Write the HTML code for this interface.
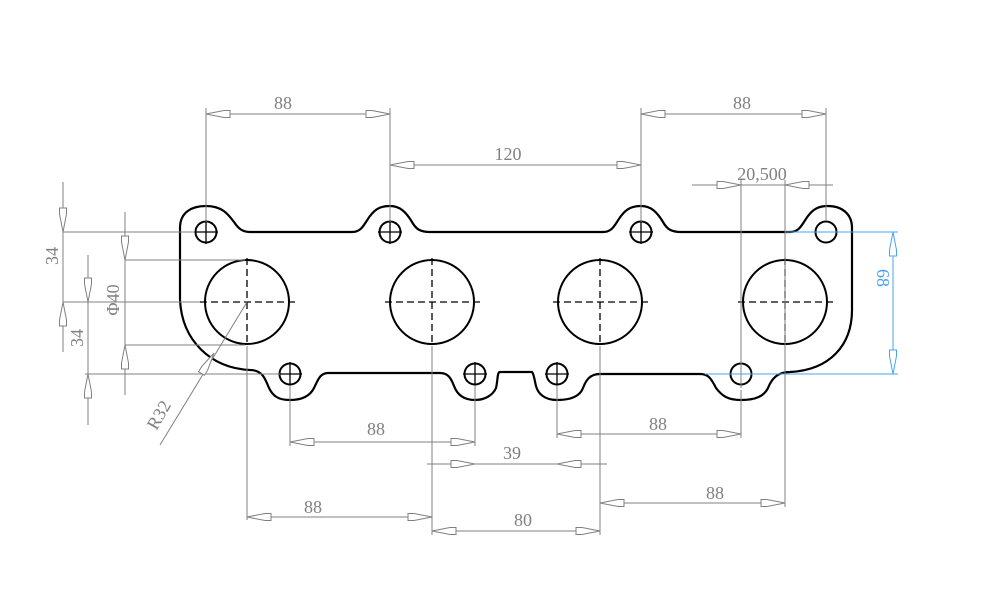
<!DOCTYPE html>
<html><head><style>body{margin:0;background:#fff}svg{display:block}</style></head><body>
<svg width="991" height="592" viewBox="0 0 991 592" xmlns="http://www.w3.org/2000/svg" font-family="Liberation Serif, serif" font-size="18">
<defs>
<polygon id="ar" points="0,0 -18,-3.5 -24,-3.5 -24,3.5 -18,3.5" fill="#fff" stroke="#808080" stroke-width="1"/>
<polygon id="arb" points="0,0 -18,-3.5 -24,-3.5 -24,3.5 -18,3.5" fill="#fff" stroke="#4aa3f0" stroke-width="1"/>
</defs>
<path fill="none" stroke="#000" stroke-width="2.2" d="
M180,300 L180,228 C180,212 192,206 206,206 C222,206 228,214 234,222 C238,228 242,232 250,232
L352,232 C362,232 364,224 370,216 C376,208 382,206 390,206 C400,206 406,212 412,222 C416,229 420,232 430,232
L603,232 C613,232 615,224 621,216 C627,208 633,206 641,206 C651,206 657,212 663,222 C667,229 671,232 681,232
L790,232 C800,232 802,224 808,216 C814,208 820,206 828,206 C842,206 852,214 852,228
L852,310 C852,345 830,370 790,372 C778,372 772,378 768,388 C764,396 756,400 741,400 C728,400 722,396 716,388 C711,378 708,374 700,374
L600,374 C590,374 586,380 583,388 C580,396 572,400 557,400 C545,400 538,394 536,386 C534,378 534,374 532,372
L500,372 C497,372 498,380 496,388 C493,395 485,400 475,400 C463,400 457,394 454,386 C451,378 448,373 440,373
L328,373 C320,373 318,380 314,388 C310,396 302,400 290,400 C278,400 273,396 269,388 C265,378 262,370 250,370
C210,368 182,340 180,300 Z"/>
<g fill="none" stroke="#000" stroke-width="2">
<circle cx="247" cy="302" r="42"/><circle cx="432" cy="302" r="42"/><circle cx="600" cy="302" r="42"/><circle cx="785" cy="302" r="42"/>
<circle cx="206" cy="232" r="10.5"/><circle cx="390" cy="232" r="10.5"/><circle cx="641" cy="232" r="10.5"/><circle cx="826" cy="232" r="10.5"/>
<circle cx="290" cy="374" r="10.5"/><circle cx="475" cy="374" r="10.5"/><circle cx="557" cy="374" r="10.5"/><circle cx="741" cy="374" r="10.5"/>
</g>
<g stroke="#000" stroke-width="1.3" stroke-dasharray="7,4" fill="none">
<path d="M200,302H295M247,258V346M385,302H480M432,258V346M553,302H648M600,258V346M738,302H833M785,258V346"/>
</g>
<g stroke="#000" stroke-width="1.3">
<path d="M194,232h24M206,220v24M378,232h24M390,220v24M629,232h24M641,220v24M278,374h24M290,362v24M463,374h24M475,362v24M545,374h24M557,362v24"/>
</g>
<g stroke="#808080" stroke-width="1" fill="none">
<path d="M206,108V222M390,108V222M641,108V222M826,108V220M206,114H390M390,165H641M641,114H826"/>
<path d="M692,185H833M741,180V388M785,180V505"/>
<path d="M63,182V352M63,232H195M63,302H200M88,255V425M85,374H280M125,212V395M125,260H245M125,345H245"/>
<path d="M247,302L160,445"/>
<path d="M290,385V446M475,385V446M557,385V438M741,390V438M290,442H475M557,434H741M427,464H607M247,346V520M432,346V535M600,346V535M785,346V507M247,517H432M432,531H600M600,503H785"/>
</g>
<g stroke="#4aa3f0" stroke-width="1" fill="none"><path d="M785,232H898M705,374H898M893,232V374"/></g>
<use href="#arb" transform="translate(893,232) rotate(-90)"/><use href="#arb" transform="translate(893,374) rotate(90)"/>
<use href="#ar" transform="translate(206,114) rotate(180)"/><use href="#ar" transform="translate(390,114)"/>
<use href="#ar" transform="translate(390,165) rotate(180)"/><use href="#ar" transform="translate(641,165)"/>
<use href="#ar" transform="translate(641,114) rotate(180)"/><use href="#ar" transform="translate(826,114)"/>
<use href="#ar" transform="translate(741,185)"/><use href="#ar" transform="translate(785,185) rotate(180)"/>
<use href="#ar" transform="translate(63,232) rotate(90)"/><use href="#ar" transform="translate(63,302) rotate(-90)"/>
<use href="#ar" transform="translate(88,302) rotate(90)"/><use href="#ar" transform="translate(88,374) rotate(-90)"/>
<use href="#ar" transform="translate(125,260) rotate(90)"/><use href="#ar" transform="translate(125,345) rotate(-90)"/>
<use href="#ar" transform="translate(214,353) rotate(-58.7)"/>
<use href="#ar" transform="translate(290,442) rotate(180)"/><use href="#ar" transform="translate(475,442)"/>
<use href="#ar" transform="translate(557,434) rotate(180)"/><use href="#ar" transform="translate(741,434)"/>
<use href="#ar" transform="translate(475,464)"/><use href="#ar" transform="translate(557,464) rotate(180)"/>
<use href="#ar" transform="translate(247,517) rotate(180)"/><use href="#ar" transform="translate(432,517)"/>
<use href="#ar" transform="translate(432,531) rotate(180)"/><use href="#ar" transform="translate(600,531)"/>
<use href="#ar" transform="translate(600,503) rotate(180)"/><use href="#ar" transform="translate(785,503)"/>
<g fill="#808080" text-anchor="middle">
<text x="283" y="109">88</text><text x="508" y="160">120</text><text x="742" y="109">88</text>
<text x="762" y="180">20,500</text>
<text transform="translate(58,256) rotate(-90)">34</text>
<text transform="translate(83,338) rotate(-90)">34</text>
<text transform="translate(119,300) rotate(-90)">Φ40</text>
<text transform="translate(164,418) rotate(-60)">R32</text>
<text x="376" y="435">88</text><text x="658" y="430">88</text><text x="512" y="459">39</text>
<text x="313" y="513">88</text><text x="523" y="526">80</text><text x="715" y="499">88</text>
</g>
<text transform="translate(877,278) rotate(90)" fill="#4aa3f0" text-anchor="middle">68</text>
</svg>
</body></html>
